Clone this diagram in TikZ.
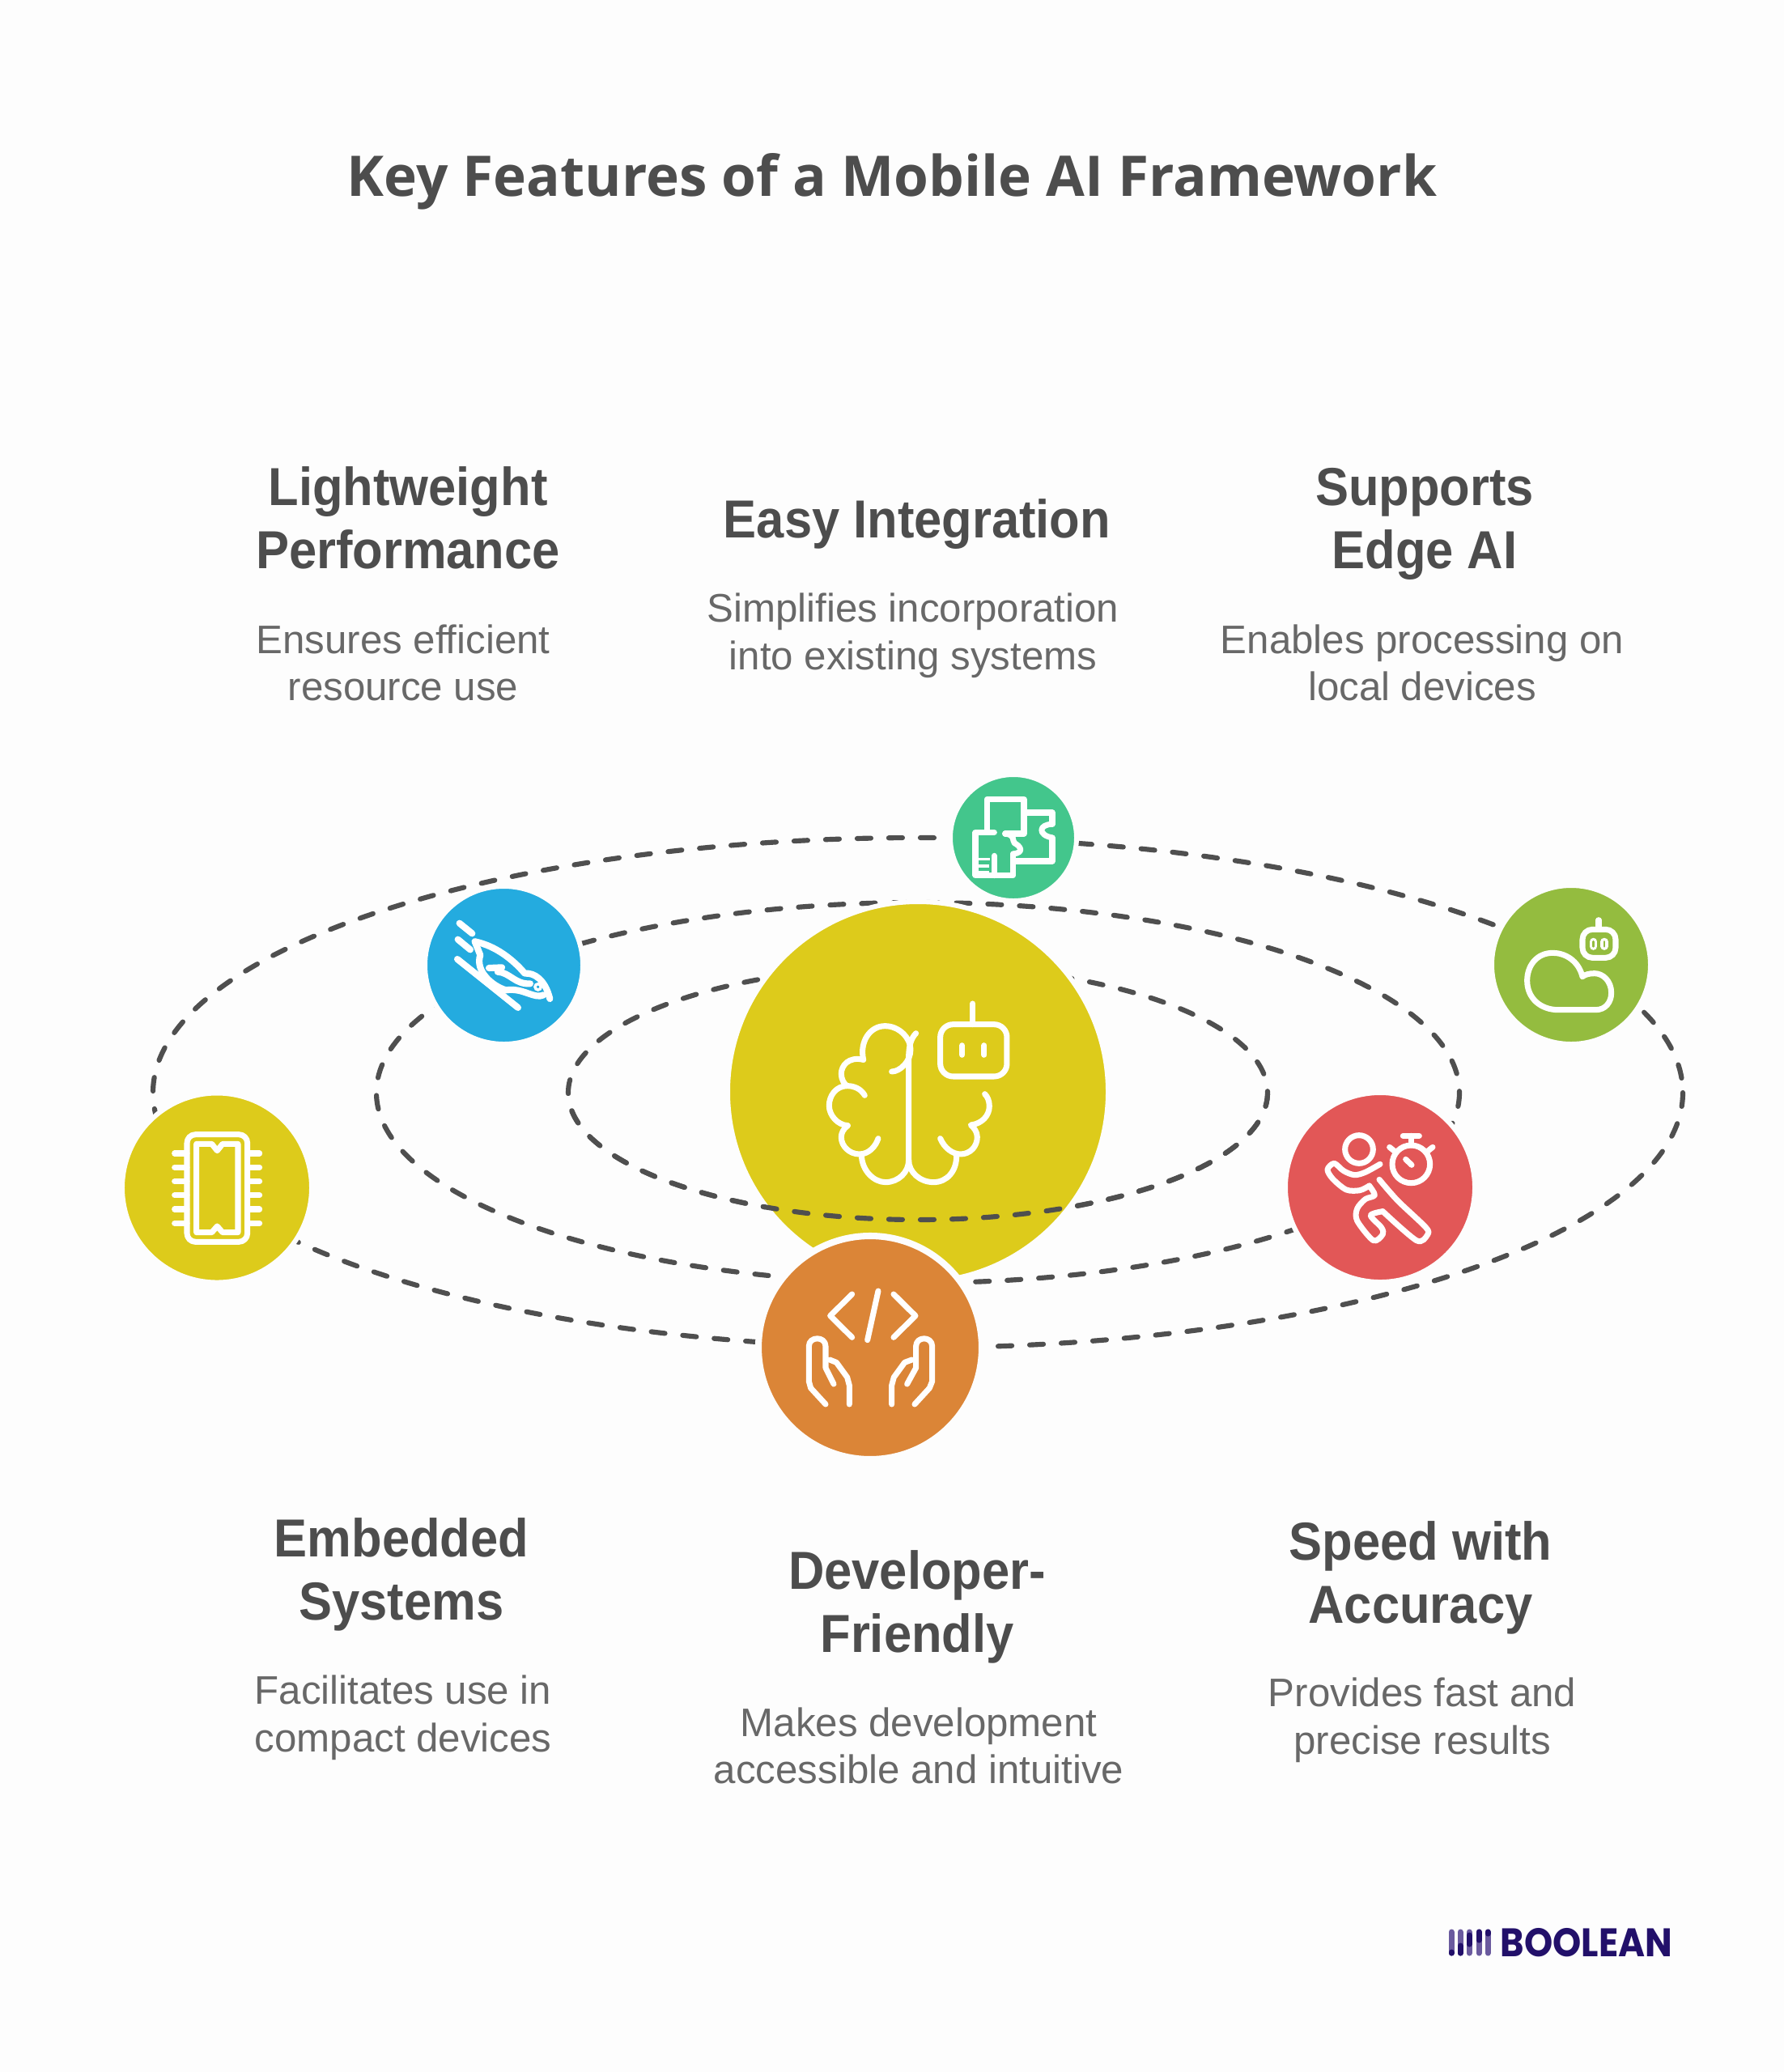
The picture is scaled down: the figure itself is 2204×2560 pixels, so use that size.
\documentclass[tikz,border=0pt]{standalone}
\usepackage{fontspec}
\usepackage{tikz}
\setmainfont{Liberation Sans}
\newfontfamily\headfont[FakeStretch=0.93]{Liberation Sans}
\newfontfamily\titlefont{Open Sans}
\newfontfamily\logofont[FakeStretch=0.91]{Poppins}
\definecolor{bggray}{RGB}{253, 253, 253}
\definecolor{txgray}{RGB}{77, 77, 77}
\definecolor{dsgray}{RGB}{104, 104, 104}
\definecolor{ringgray}{RGB}{79, 79, 79}
\definecolor{fwyellow}{RGB}{221, 203, 27}
\definecolor{fwblue}{RGB}{36, 171, 223}
\definecolor{fwmint}{RGB}{67, 198, 140}
\definecolor{fwlime}{RGB}{148, 188, 63}
\definecolor{fwred}{RGB}{226, 87, 87}
\definecolor{fworange}{RGB}{219, 133, 55}
\definecolor{logoblue}{RGB}{34, 16, 106}
\definecolor{logolight}{RGB}{106, 90, 158}
\tikzset{
  ringline/.style={ringgray, line width=1.75pt, line cap=round, dash pattern=on 0.17cm off 0.22cm},
  halo/.style={draw=bggray, line width=1.7pt},
  iconline/.style={white, line width=2pt, line cap=round, line join=round},
  headtext/.style={txgray, align=center, font=\fontsize{18.8}{22.2}\selectfont\headfont\bfseries},
  desctext/.style={dsgray, align=center, font=\fontsize{14}{16.7}\selectfont},
}

\begin{document}
\begin{tikzpicture}[x=0.01cm, y=-0.01cm]
  % Page
  \fill[bggray] (0,0) rectangle (2204,2560);
  \useasboundingbox (0,0) rectangle (2204,2560);

  % Title
  \node[txgray, font=\fontsize{19.7}{24}\selectfont\titlefont\bfseries] (title) at (1102,224) {Key Features of a Mobile AI Framework};

  % Orbits
  \draw[ringline] (1134,1350) ellipse [x radius=945, y radius=315];
  \draw[ringline] (1134,1350) ellipse [x radius=669, y radius=235];
  \draw[ringline] (1134,1350) ellipse [x radius=432, y radius=157];

  % Central circle, front of the inner orbit goes over it
  \filldraw[halo, fill=fwyellow] (1134,1349) circle [radius=235];
  \begin{scope}
    \clip (600,1352) rectangle (1700,1600);
    \draw[ringline] (1134,1350) ellipse [x radius=432, y radius=157];
  \end{scope}

  % Planets
  \filldraw[halo, fill=fwblue] (622.5,1192.5) circle [radius=97.5];
  \filldraw[halo, fill=fwmint] (1252,1035) circle [radius=78];
  \filldraw[halo, fill=fwlime] (1941,1192) circle [radius=98];
  \filldraw[halo, fill=fwred] (1705,1467) circle [radius=117];
  \filldraw[halo, fill=fwyellow] (268,1467.5) circle [radius=117];
  \filldraw[draw=bggray, line width=2.3pt, fill=fworange] (1075,1665) circle [radius=138];

  % Brain and robot
  \begin{scope}[shift={(880,1100)}, scale=0.3333]
    \draw[iconline] (755,530) .. controls (740,545) and (728,570) .. (728,620) -- (728,1000);
    \draw[iconline] (560,628) .. controls (545,560) and (585,503) .. (640,503) .. controls (695,503) and (735,550) .. (735,590) .. controls (735,635) and (695,672) .. (665,672);
    \draw[iconline] (560,628) .. controls (505,615) and (478,650) .. (478,680) .. controls (478,700) and (488,718) .. (500,725);
    \draw[iconline] (565,760) .. controls (550,735) and (525,725) .. (500,725) .. controls (460,725) and (433,760) .. (433,798) .. controls (433,835) and (465,870) .. (502,872);
    \draw[iconline] (502,872) .. controls (485,885) and (478,900) .. (478,915) .. controls (478,950) and (510,978) .. (545,978) .. controls (580,978) and (605,950) .. (615,920);
    \draw[iconline] (553,978) .. controls (553,1040) and (600,1082) .. (642,1082) .. controls (690,1082) and (728,1045) .. (728,1000);
    \draw[iconline] (728,1000) .. controls (728,1045) and (770,1082) .. (820,1082) .. controls (870,1082) and (908,1040) .. (905,978);
    \draw[iconline] (845,920) .. controls (860,955) and (890,978) .. (920,978) .. controls (955,978) and (982,950) .. (982,915) .. controls (982,895) and (970,880) .. (958,870) .. controls (1000,865) and (1027,835) .. (1027,800) .. controls (1027,780) and (1020,765) .. (1010,755);
    \draw[iconline, rounded corners=4.5pt] (845,497) rectangle (1092,690);
    \draw[iconline] (966,420) -- (966,497);
    \draw[iconline] (926,575) -- (926,610);
    \draw[iconline] (1008,575) -- (1008,610);
  \end{scope}

  % Bird
  \begin{scope}[shift={(500,1070)}, scale=0.3333, iconline/.append style={line width=2.3pt}]
    \draw[iconline] (203,212) -- (250,250);
    \draw[iconline] (197,272) -- (243,310);
    \draw[iconline] (195,345) -- (420,525);
    \draw[iconline] (260,280) .. controls (335,295) and (400,345) .. (445,398) .. controls (480,395) and (520,420) .. (538,492);
    \draw[iconline] (515,478) .. controls (480,495) and (440,450) .. (375,460) .. controls (325,445) and (260,390) .. (280,330) -- (260,280);
    \draw[iconline] (312,378) -- (360,376) -- (345,392);
    \draw[iconline] (345,392) .. controls (390,395) and (410,440) .. (465,436);
    \draw[white, line width=1pt] (494,448) circle [radius=11];
  \end{scope}

  % Puzzle
  \begin{scope}[shift={(1160,950)}, scale=0.3333]
    \draw[iconline] (178,235) -- (178,112) -- (315,112) -- (315,240) -- (245,240);
    \draw[iconline] (205,235) -- (135,235) -- (135,395) -- (275,395) -- (275,315);
    \draw[iconline] (245,240) .. controls (285,245) and (270,265) .. (280,275) .. controls (300,285) and (320,310) .. (275,315);
    \draw[iconline] (315,162) -- (420,162) -- (420,205);
    \draw[iconline] (420,205) .. controls (370,205) and (365,245) .. (420,255);
    \draw[iconline] (420,255) -- (420,342) -- (280,342);
    \draw[white, line width=0.9pt] (145,335) -- (190,335);
    \draw[white, line width=0.9pt] (145,360) -- (185,360);
    \draw[white, line width=0.9pt] (145,383) -- (185,383);
    \draw[iconline] (205,322) -- (205,395);
  \end{scope}

  % Cloud and robot
  \begin{scope}[shift={(1830,1080)}, scale=0.3333]
    \draw[iconline] (375,380) .. controls (360,320) and (310,292) .. (265,292) .. controls (205,292) and (170,340) .. (170,395) .. controls (170,460) and (220,503) .. (285,503) -- (425,503) .. controls (460,503) and (482,475) .. (482,440) .. controls (482,395) and (450,368) .. (420,368) .. controls (400,368) and (385,372) .. (375,380);
    \draw[iconline, rounded corners=3.5pt] (375,205) rectangle (498,310);
    \draw[iconline] (435,170) -- (435,205);
    \draw[white, line width=2.6pt, line cap=round] (416,250) -- (416,268);
    \draw[white, line width=2.6pt, line cap=round] (456,250) -- (456,268);
    \draw[fwlime, line width=0.8pt, line cap=round] (416,250) -- (416,268);
    \draw[fwlime, line width=0.8pt, line cap=round] (456,250) -- (456,268);
  \end{scope}

  % Runner and stopwatch
  \begin{scope}[shift={(1580,1340)}, scale=0.3333]
    \draw[iconline] (297,240) circle [radius=52];
    \draw[iconline] plot[smooth, tension=0.5] coordinates {(375,295) (320,325) (280,335) (240,320) (205,292) (180,315) (200,350) (250,390) (300,392) (335,375)};
    \draw[iconline] plot[smooth, tension=0.5] coordinates {(335,375) (355,410) (320,425) (290,460) (290,505) (350,578) (385,555) (380,530) (340,485) (385,470)};
    \draw[iconline] plot[smooth, tension=0.5] coordinates {(385,470) (510,578) (550,558) (545,530) (440,430) (372,352)};
    \draw[iconline] (490,295) circle [radius=70];
    \draw[iconline] (460,190) -- (520,190);
    \draw[iconline] (490,190) -- (490,225);
    \draw[iconline] (410,232) -- (430,248);
    \draw[iconline] (570,232) -- (550,248);
    \draw[iconline] (470,277) -- (492,298);
  \end{scope}

  % Chip
  \begin{scope}[shift={(150,1350)}, scale=0.3333]
    \draw[iconline, rounded corners=3pt] (243,155) rectangle (467,553);
    \draw[iconline] (278,190) -- (335,190) -- (355,215) -- (375,190) -- (432,190) -- (432,518)
      -- (375,518) -- (355,495) -- (335,518) -- (278,518) -- cycle;
    \foreach \pinY in {225,277,329,380,432,484} {
      \draw[iconline] (197,\pinY) -- (243,\pinY);
      \draw[iconline] (467,\pinY) -- (512,\pinY);
    }
  \end{scope}

  % Code and hands
  \begin{scope}[shift={(930,1520)}, scale=0.3333]
    \draw[iconline] (368,237) -- (287,317) -- (368,397);
    \draw[iconline] (465,225) -- (425,407);
    \draw[iconline] (522,237) -- (603,317) -- (522,397);
    \draw[iconline] (270,645) -- (215,585) -- (208,560) -- (208,430) .. controls (208,392) and (270,392) .. (270,430) -- (270,510) -- (300,570);
    \draw[iconline] (285,480) -- (310,490) -- (350,545) -- (358,575) -- (358,645);
    \draw[iconline] (600,645) -- (655,585) -- (665,560) -- (665,430) .. controls (665,392) and (605,392) .. (605,430) -- (605,510) -- (572,570);
    \draw[iconline] (590,480) -- (563,490) -- (523,545) -- (515,575) -- (515,645);
  \end{scope}

  % Top row texts
  \node[headtext] (lighthead) at (504,640) {Lightweight\\Performance};
  \node[desctext] (lightdesc) at (498,819) {Ensures efficient\\resource use};
  \node[headtext] (easyhead) at (1133,648) {Easy Integration};
  \node[desctext] (easydesc) at (1128,785) {Simplifies incorporation\\into existing systems};
  \node[headtext] (edgehead) at (1760,647) {Supports\\Edge AI};
  \node[desctext] (edgedesc) at (1757,819) {Enables processing on\\local devices};

  % Bottom row texts
  \node[headtext] (embedhead) at (496,1945) {Embedded\\Systems};
  \node[desctext] (embeddesc) at (498,2122) {Facilitates use in\\compact devices};
  \node[headtext] (devhead) at (1133,1985) {Developer-\\Friendly};
  \node[desctext] (devdesc) at (1135,2157) {Makes development\\accessible and intuitive};
  \node[headtext] (speedhead) at (1755,1949) {Speed with\\Accuracy};
  \node[desctext] (speeddesc) at (1757,2125) {Provides fast and\\precise results};

  % Logo
  \foreach \barX in {1793,1804,1815,1827,1838} {
    \draw[logolight, line width=2pt, line cap=round] (\barX,2387) -- (\barX,2413);
  }
  \draw[logoblue, line width=2pt, line cap=round] (1793,2412) -- (1793,2413);
  \draw[logoblue, line width=2pt, line cap=round] (1804,2404) -- (1804,2413);
  \draw[logoblue, line width=2pt, line cap=round] (1815,2391) -- (1815,2402);
  \draw[logoblue, line width=2pt, line cap=round] (1827,2387) -- (1827,2397);
  \draw[logoblue, line width=2pt, line cap=round] (1838,2387) -- (1838,2389);
  \node[logoblue, anchor=west, inner sep=0pt, font=\fontsize{14}{14}\selectfont\logofont\bfseries] (logo) at (1853,2400) {BOOLEAN};
\end{tikzpicture}
\end{document}
